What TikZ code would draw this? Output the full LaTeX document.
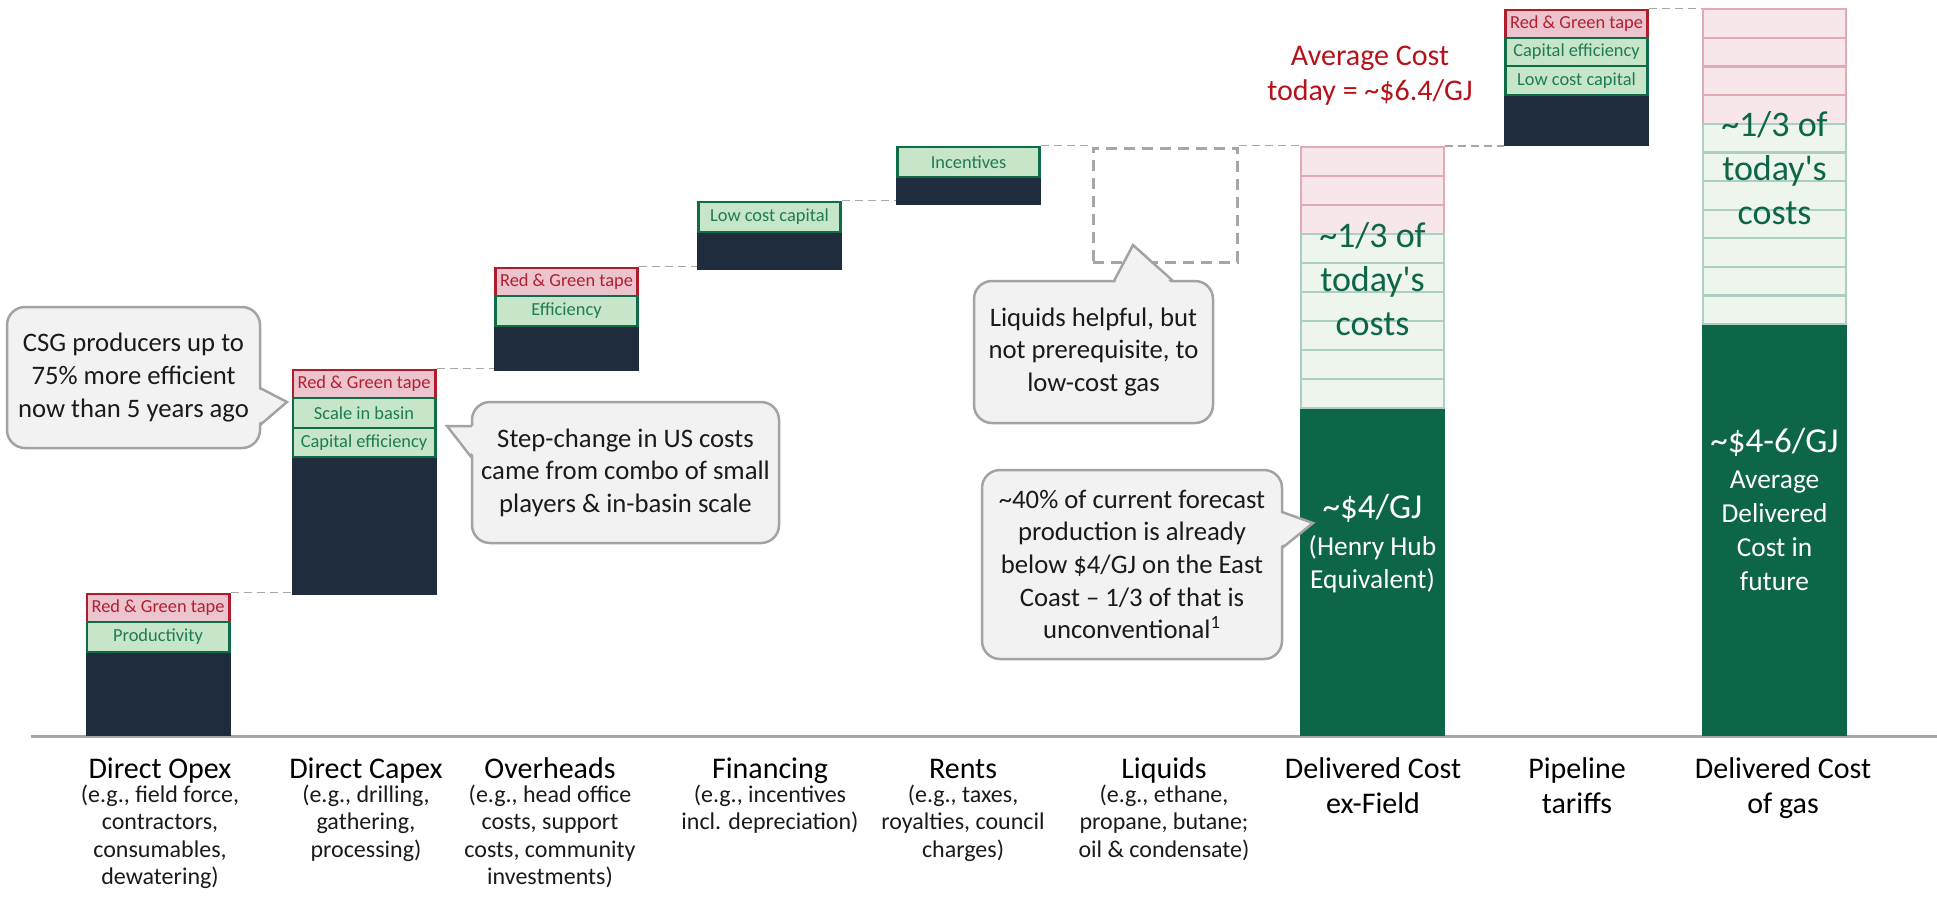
\documentclass[tikz,border=0pt]{standalone}
\usepackage{fontspec}
\setmainfont{Carlito}
\usetikzlibrary{calc}

\definecolor{navy}{HTML}{1E2C3D}
\definecolor{tapefill}{HTML}{EBC4CE}
\definecolor{tapeline}{HTML}{B01C2B}
\definecolor{tapetext}{HTML}{B2202F}
\definecolor{leverfill}{HTML}{C7E6C9}
\definecolor{leverline}{HTML}{106B47}
\definecolor{levertext}{HTML}{1E7B52}
\definecolor{deepgreen}{HTML}{0C6647}
\definecolor{softpink}{HTML}{F7E7EB}
\definecolor{softpinkline}{HTML}{E2AAB2}
\definecolor{softgreen}{HTML}{EDF5ED}
\definecolor{softgreenline}{HTML}{ABCFC2}
\definecolor{bubblefillc}{HTML}{F2F2F2}
\definecolor{bubbleline}{HTML}{A3A3A3}
\definecolor{rulegray}{HTML}{A6A6A6}
\definecolor{costred}{HTML}{B5121B}
\definecolor{ink}{HTML}{1A1A1A}

\begin{document}
\begin{tikzpicture}[x=0.5pt, y=-0.5pt,
  barbody/.style={fill=navy, minimum width=72.5pt, inner sep=0pt, outer sep=0pt},
  gasbody/.style={fill=deepgreen, minimum width=72.5pt, inner sep=0pt, outer sep=0pt},
  tapebox/.style={draw=tapeline, fill=tapefill, text=tapetext, line width=1.3pt,
    minimum width=71.2pt, inner sep=0pt, font=\fontsize{9.2}{10}\selectfont},
  leverbox/.style={draw=leverline, fill=leverfill, text=levertext, line width=1.3pt,
    minimum width=71.2pt, inner sep=0pt, font=\fontsize{9.2}{10}\selectfont},
  softred/.style={draw=softpinkline, fill=softpink, line width=1.1pt,
    minimum width=71.5pt, inner sep=0pt},
  softgrn/.style={draw=softgreenline, fill=softgreen, line width=1.1pt,
    minimum width=71.5pt, inner sep=0pt},
  link/.style={draw=rulegray, line width=0.75pt, dash pattern=on 4pt off 2.5pt},
  gapbox/.style={draw=rulegray, line width=1.5pt, dash pattern=on 5.5pt off 3.5pt,
    minimum width=72pt, minimum height=57pt, inner sep=0pt},
  bubble/.style={draw=bubbleline, fill=bubblefillc, line width=1.25pt, rounded corners=9pt,
    align=center, inner sep=0pt, text=ink, font=\fontsize{13.35}{16.3}\selectfont},
  bubblepatch/.style={fill=bubblefillc},
  bubbleedge/.style={draw=bubbleline, line width=1.25pt, line join=miter},
  cat/.style={anchor=north, align=center, inner sep=0pt, text=black,
    font=\fontsize{15}{17.5}\selectfont},
  catnote/.style={anchor=north, align=center, inner sep=0pt, text=ink,
    font=\fontsize{12}{13.75}\selectfont},
  share/.style={align=center, inner sep=0pt, text=deepgreen, font=\fontsize{18}{22}\selectfont},
  bigwhite/.style={align=center, inner sep=0pt, text=white, font=\fontsize{17.5}{21}\selectfont},
  smallwhite/.style={align=center, inner sep=0pt, text=white, font=\fontsize{13.7}{16.8}\selectfont}
]
\useasboundingbox (0,0) rectangle (1937,907);

% baseline axis
\coordinate (axisL) at (31,736);
\coordinate (axisR) at (1937,736);
\draw[rulegray, line width=1.5pt] (axisL) -- (axisR);

% ---- Direct Opex
\node[barbody, minimum height=42pt] (o-body) at (158,694) {};
\node[tapebox, minimum height=14pt] (o-tape) at (158,608) {Red \& Green tape};
\node[leverbox, minimum height=15pt] (o-prod) at (158,637) {Productivity};

% ---- Direct Capex
\node[barbody, minimum height=69pt] (c-body) at (364,526) {};
\node[tapebox, minimum height=14pt] (c-tape) at (364,384) {Red \& Green tape};
\node[leverbox, minimum height=15pt] (c-scale) at (364,413) {Scale in basin};
\node[leverbox, minimum height=14.5pt] (c-cap) at (364,442.5) {Capital efficiency};

% ---- Overheads
\node[barbody, minimum height=22.5pt] (h-body) at (566.5,348.5) {};
\node[tapebox, minimum height=14pt] (h-tape) at (566.5,282) {Red \& Green tape};
\node[leverbox, minimum height=15pt] (h-eff) at (566.5,311) {Efficiency};

% ---- Financing
\node[barbody, minimum height=19pt] (f-body) at (769.5,251) {};
\node[leverbox, minimum height=15pt] (f-cap) at (769.5,217) {Low cost capital};

% ---- Rents
\node[barbody, minimum height=14pt] (r-body) at (968.5,191) {};
\node[leverbox, minimum height=15pt] (r-inc) at (968.5,162) {Incentives};

% ---- Liquids (no bar, dashed outline only)
\node[gapbox] (liq) at (1165,205) {};

% ---- Delivered cost ex-Field
\node[gasbody, minimum height=164pt] (exf-body) at (1372.5,572) {};
\foreach \i/\y in {1/161.5,2/190.5,3/219.5}
  \node[softred, minimum height=14.5pt] (exf-r\i) at (1372.5,\y) {};
\foreach \i/\y in {1/248.5,2/277.5,3/306.5,4/335.5,5/364.5,6/393.5}
  \node[softgrn, minimum height=14.5pt] (exf-g\i) at (1372.5,\y) {};

% ---- Pipeline tariffs
\node[barbody, minimum height=25.5pt] (p-body) at (1576.5,120.5) {};
\node[tapebox, minimum height=14pt] (p-tape) at (1576.5,24) {Red \& Green tape};
\node[leverbox, minimum height=14pt] (p-cap) at (1576.5,52) {Capital efficiency};
\node[leverbox, minimum height=14.5pt] (p-low) at (1576.5,80.5) {Low cost capital};

% ---- Delivered cost of gas
\node[gasbody, minimum height=206pt] (fin-body) at (1774.5,530) {};
\foreach \i/\y in {1/23.4,2/52.1,3/80.9,4/109.6}
  \node[softred, minimum height=14.375pt] (fin-r\i) at (1774.5,\y) {};
\foreach \i/\y in {1/138.3,2/166.9,3/195.4,4/224,5/252.6,6/281.1,7/309.7}
  \node[softgrn, minimum height=14.28pt] (fin-g\i) at (1774.5,\y) {};

% ---- dashed step connectors
\draw[link] (o-tape.north east) -- (o-tape.north east -| c-body.west);
\draw[link] (c-tape.north east) -- (c-tape.north east -| h-body.west);
\draw[link] (h-tape.north east) -- (h-tape.north east -| f-body.west);
\draw[link] (f-cap.north east) -- (f-cap.north east -| r-body.west);
\draw[link] (r-inc.north east) -- (r-inc.north east -| liq.west);
\coordinate (liq-top) at (liq.north east |- r-inc.north);
\draw[link] (liq-top) -- (liq-top -| exf-r1.west);
\draw[link] (exf-r1.north east) -- (exf-r1.north east -| p-body.west);
\draw[link] (p-tape.north east) -- (p-tape.north east -| fin-r1.west);

% ---- texts inside the two delivered-cost bars
\node[share] (exf-third) at (1372.5,279) {\textasciitilde1/3 of\\today\textquotesingle s\\costs};
\node[share] (fin-third) at (1774.5,168) {\textasciitilde1/3 of\\today\textquotesingle s\\costs};
\node[bigwhite] (exf-val) at (1372.5,508) {\textasciitilde\$4/GJ};
\node[smallwhite] (exf-note) at (1372.5,564) {(Henry Hub\\Equivalent)};
\node[bigwhite] (fin-val) at (1774.5,442) {\textasciitilde\$4-6/GJ};
\node[smallwhite, font=\fontsize{13.7}{17}\selectfont] (fin-note) at (1774.5,531) {Average\\Delivered\\Cost in\\future};

% ---- average cost today
\node[align=center, inner sep=0pt, text=costred, font=\fontsize{15}{17.5}\selectfont]
  (avg) at (1370,76) {Average Cost\\today = \textasciitilde\$6.4/GJ};

% ---- callouts
\node[bubble, minimum width=126.5pt, minimum height=70.5pt] (csg) at (133.5,377.5)
  {CSG producers up to\\75\% more efficient\\now than 5 years ago};
\coordinate (csg-b1) at (260,388);
\coordinate (csg-tip) at (287,402);
\coordinate (csg-b2) at (260,425);
\fill[bubblepatch] ([xshift=-2pt]csg-b1) -- (csg-tip) -- ([xshift=-2pt]csg-b2) -- cycle;
\draw[bubbleedge] (csg-b1) -- (csg-tip) -- (csg-b2);

\node[bubble, minimum width=153.5pt, minimum height=70.5pt] (us) at (625.5,472.5)
  {Step-change in US costs\\came from combo of small\\players \& in-basin scale};
\coordinate (us-b1) at (472,426);
\coordinate (us-tip) at (447,426);
\coordinate (us-b2) at (472,458);
\fill[bubblepatch] ([xshift=2pt]us-b1) -- (us-tip) -- ([xshift=2pt]us-b2) -- cycle;
\draw[bubbleedge] (us-b1) -- (us-tip) -- (us-b2);

\node[bubble, minimum width=119.5pt, minimum height=71pt] (liqnote) at (1093.5,352)
  {Liquids helpful, but\\not prerequisite, to\\low-cost gas};
\coordinate (liq-b1) at (1114,281);
\coordinate (liq-tip) at (1133,245);
\coordinate (liq-b2) at (1173,281);
\fill[bubblepatch] ([yshift=-2pt]liq-b1) -- (liq-tip) -- ([yshift=-2pt]liq-b2) -- cycle;
\draw[bubbleedge] (liq-b1) -- (liq-tip) -- (liq-b2);

\node[bubble, minimum width=150pt, minimum height=94.5pt] (share40) at (1132,564.5)
  {\textasciitilde40\% of current forecast\\production is already\\below \$4/GJ on the East\\Coast \textendash{} 1/3 of that is\\unconventional\textsuperscript{1}};
\coordinate (s40-b1) at (1282,512);
\coordinate (s40-tip) at (1313,523);
\coordinate (s40-b2) at (1282,548);
\fill[bubblepatch] ([xshift=-2pt]s40-b1) -- (s40-tip) -- ([xshift=-2pt]s40-b2) -- cycle;
\draw[bubbleedge] (s40-b1) -- (s40-tip) -- (s40-b2);

% ---- category labels
\node[cat] (l-opex) at (160,753.5) {\strut Direct Opex};
\node[catnote] (n-opex) at (160,782.75) {\strut(e.g., field force,\\contractors,\\consumables,\\dewatering)};
\node[cat] (l-capex) at (366,753.5) {\strut Direct Capex};
\node[catnote] (n-capex) at (366,782.75) {\strut(e.g., drilling,\\gathering,\\processing)};
\node[cat] (l-over) at (550,753.5) {\strut Overheads};
\node[catnote] (n-over) at (550,782.75) {\strut(e.g., head office\\costs, support\\costs, community\\investments)};
\node[cat] (l-fin) at (770,753.5) {\strut Financing};
\node[catnote] (n-fin) at (770,782.75) {\strut(e.g., incentives\\incl. depreciation)};
\node[cat] (l-rent) at (963,753.5) {\strut Rents};
\node[catnote] (n-rent) at (963,782.75) {\strut(e.g., taxes,\\royalties, council\\charges)};
\node[cat] (l-liq) at (1164,753.5) {\strut Liquids};
\node[catnote] (n-liq) at (1164,782.75) {\strut(e.g., ethane,\\propane, butane;\\oil \& condensate)};
\node[cat] (l-exf) at (1373,753.5) {\strut Delivered Cost\\ex-Field};
\node[cat] (l-pipe) at (1577,753.5) {\strut Pipeline\\tariffs};
\node[cat] (l-gas) at (1783,753.5) {\strut Delivered Cost\\of gas};
\end{tikzpicture}
\end{document}
